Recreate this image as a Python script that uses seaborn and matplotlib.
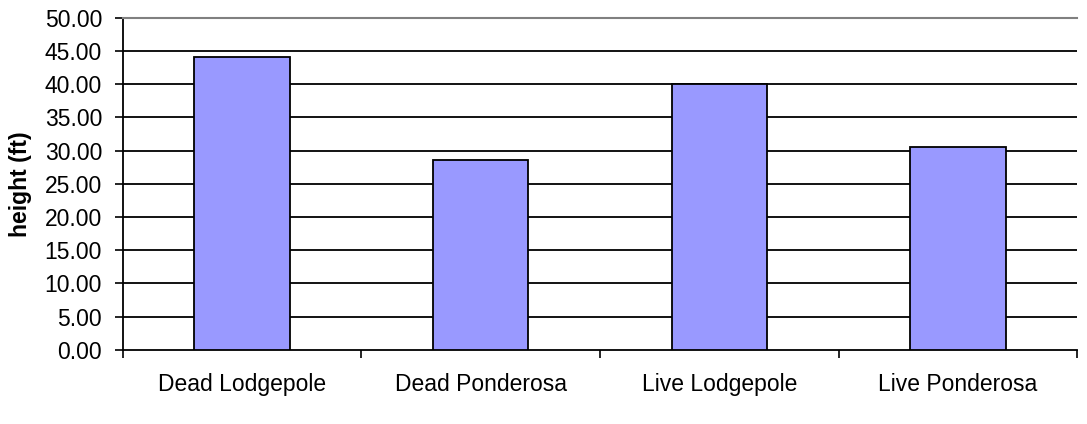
import matplotlib
matplotlib.use('Agg')
import matplotlib.pyplot as plt
import seaborn as sns
import pandas as pd
import numpy as np

# --- dados ---
categorias = ['Dead Lodgepole', 'Dead Ponderosa', 'Live Lodgepole', 'Live Ponderosa']
alturas = [44.1, 28.6, 40.0, 30.6]
y_ticks = [0, 5, 10, 15, 20, 25, 30, 35, 40, 45, 50]

df = pd.DataFrame({'categoria': categorias, 'altura': alturas})

sns.set_theme(style='white')
plt.rcParams['font.family'] = ['Liberation Sans', 'DejaVu Sans']
plt.rcParams['text.color'] = 'black'
plt.rcParams['xtick.color'] = 'black'
plt.rcParams['ytick.color'] = 'black'
plt.rcParams['axes.labelcolor'] = 'black'

fig = plt.figure(figsize=(10.87, 4.24), dpi=100)
ax = fig.add_axes([0.113, 0.175, 0.878, 0.783])

sns.barplot(data=df, x='categoria', y='altura', color='#9999FF',
            edgecolor='black', linewidth=1.3, width=0.40, saturation=1,
            zorder=3, ax=ax)

ax.set_ylim(0, 50)
ax.set_xlim(-0.5, len(categorias) - 0.5)
ax.set_yticks(y_ticks)
ax.set_yticklabels([f'{v:.2f}' for v in y_ticks], fontsize=16.5)

# linhas de grade horizontais pretas
for v in y_ticks[1:-1]:
    ax.axhline(v, color='black', linewidth=1.3, zorder=1)

# ticks do eixo x entre as categorias
ax.set_xticks(np.arange(len(categorias)))
ax.set_xticklabels(categorias, fontsize=16.5)
ax.tick_params(axis='x', length=0, pad=17)
ax.set_xticks(np.arange(-0.5, len(categorias)), minor=True)
ax.tick_params(axis='x', which='minor', length=6, width=1.2, color='black',
               direction='out', bottom=True)
ax.tick_params(axis='y', length=6, width=1.2, color='black', direction='out',
               left=True, pad=9)

ax.set_xlabel('')
ax.set_ylabel('height (ft)', fontsize=16.5, fontweight='bold', labelpad=9)

for lado in ['left', 'bottom']:
    ax.spines[lado].set_color('black')
    ax.spines[lado].set_linewidth(1.3)
ax.spines['top'].set_color('#808080')
ax.spines['top'].set_linewidth(1.5)
ax.spines['right'].set_visible(False)

fig.savefig('out.png', dpi=100, facecolor='white')
